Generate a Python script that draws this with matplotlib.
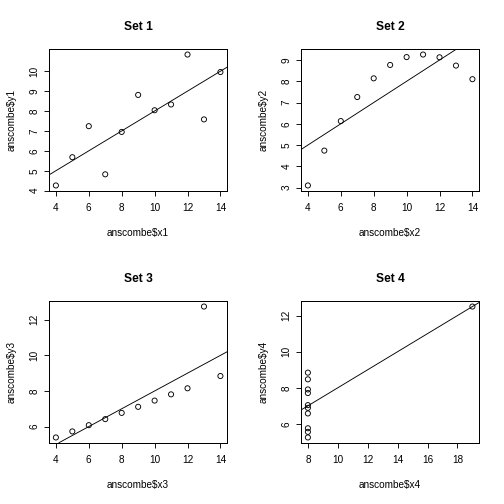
import numpy as np
import matplotlib
matplotlib.use("Agg")
import matplotlib.pyplot as plt

x1 = [10, 8, 13, 9, 11, 14, 6, 4, 12, 7, 5]
x2 = [10, 8, 13, 9, 11, 14, 6, 4, 12, 7, 5]
x3 = [10, 8, 13, 9, 11, 14, 6, 4, 12, 7, 5]
x4 = [8, 8, 8, 8, 8, 8, 8, 19, 8, 8, 8]
y1 = [8.04, 6.95, 7.58, 8.81, 8.33, 9.96, 7.24, 4.26, 10.84, 4.82, 5.68]
y2 = [9.14, 8.14, 8.74, 8.77, 9.26, 8.10, 6.13, 3.10, 9.13, 7.26, 4.74]
y3 = [7.46, 6.77, 12.74, 7.11, 7.81, 8.84, 6.08, 5.39, 8.15, 6.42, 5.73]
y4 = [6.58, 5.76, 7.71, 8.84, 8.47, 7.04, 5.25, 12.50, 5.56, 7.91, 6.89]

titles = ["Set 1", "Set 2", "Set 3", "Set 4"]
xlabels = ["anscombe$x1", "anscombe$x2", "anscombe$x3", "anscombe$x4"]
ylabels = ["anscombe$y1", "anscombe$y2", "anscombe$y3", "anscombe$y4"]
xticks = [[4, 6, 8, 10, 12, 14]] * 3 + [[8, 10, 12, 14, 16, 18]]
yticks = [[4, 5, 6, 7, 8, 9, 10], [3, 4, 5, 6, 7, 8, 9], [6, 8, 10, 12], [6, 8, 10, 12]]

plt.rcParams['font.family'] = ['Liberation Sans', 'DejaVu Sans']

W = H = 504
fig = plt.figure(figsize=(7, 7), dpi=72)

xs = [x1, x2, x3, x4]
ys = [y1, y2, y3, y4]

for i in range(4):
    r, c = divmod(i, 2)
    ox, oy = c * 252, r * 252
    left, right, top, bottom = ox + 49.3, ox + 227, oy + 49.3, oy + 190.7
    ax = fig.add_axes([left / W, 1 - bottom / H, (right - left) / W, (bottom - top) / H])
    x = np.array(xs[i], float)
    y = np.array(ys[i], float)
    ax.scatter(x, y, s=26, facecolors='none', edgecolors='black', linewidths=0.9, zorder=3)
    xr = x.max() - x.min(); yr = y.max() - y.min()
    ax.set_xlim(x.min() - 0.04 * xr, x.max() + 0.04 * xr)
    ax.set_ylim(y.min() - 0.04 * yr, y.max() + 0.04 * yr)
    m, b = np.polyfit(x, y, 1)
    ax.axline((0, b), slope=m, color='black', lw=0.9)
    ax.set_xticks(xticks[i])
    ax.set_yticks(yticks[i])
    for s in ax.spines.values():
        s.set_color('black'); s.set_linewidth(1.0)
    ax.tick_params(direction='out', length=5, width=0.9, labelsize=10, colors='black')
    ax.tick_params(axis='x', pad=7)
    ax.tick_params(axis='y', pad=5)
    for lab in ax.get_yticklabels():
        lab.set_rotation(90); lab.set_va('center')
    ax.set_title(titles[i], fontsize=12, fontweight='bold', pad=19)
    ax.set_xlabel(xlabels[i], fontsize=10, labelpad=15)
    ax.set_ylabel(ylabels[i], fontsize=10, labelpad=13)

fig.savefig("out.png", dpi=72)
